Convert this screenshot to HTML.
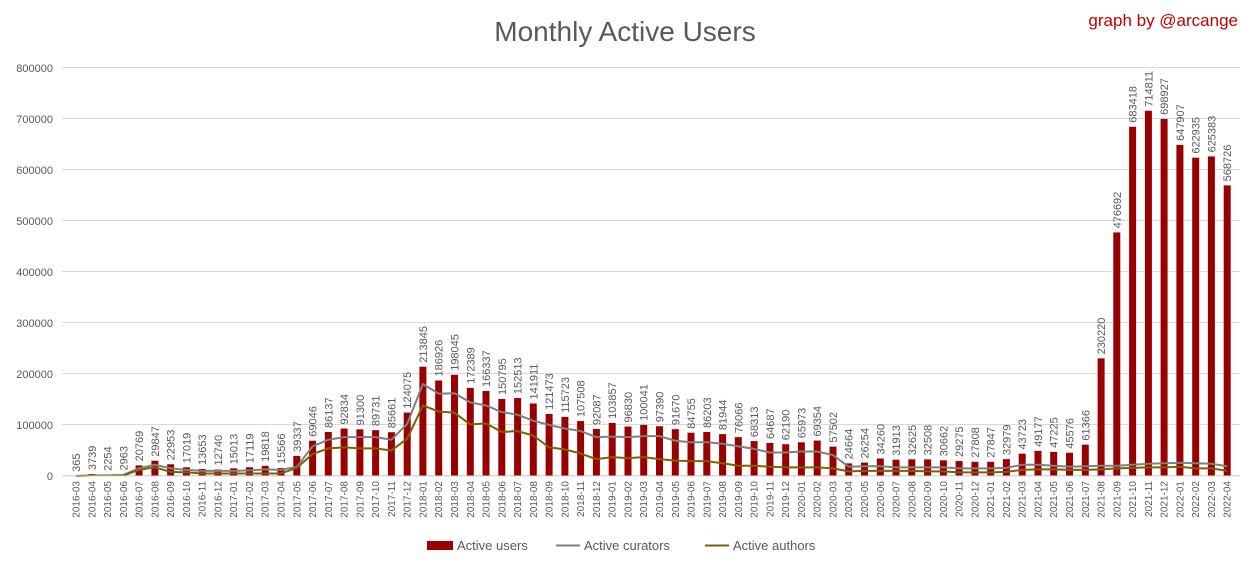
<!DOCTYPE html>
<html><head><meta charset="utf-8"><style>
html,body{margin:0;padding:0;background:#fff;}
svg{display:block;font-family:"Liberation Sans",sans-serif;}
.b rect{fill:#990000}
.b text{font-size:11px;fill:#595959}
.x text{font-size:10px;fill:#595959;text-anchor:end}
.y text{font-size:11px;fill:#595959;text-anchor:end}
</style></head><body>
<svg width="1249" height="568" viewBox="0 0 1249 568" xmlns="http://www.w3.org/2000/svg">
<rect width="1249" height="568" fill="#fff"/>
<text x="625" y="41" text-anchor="middle" font-size="28" fill="#595959">Monthly Active Users</text>
<text x="1238" y="26" text-anchor="end" font-size="17" fill="#c00000">graph by @arcange</text>
<g stroke="#d9d9d9" stroke-width="1">
<line x1="62" x2="1240" y1="67.5" y2="67.5"/><line x1="62" x2="1240" y1="118.5" y2="118.5"/><line x1="62" x2="1240" y1="169.5" y2="169.5"/><line x1="62" x2="1240" y1="220.5" y2="220.5"/><line x1="62" x2="1240" y1="271.5" y2="271.5"/><line x1="62" x2="1240" y1="322.5" y2="322.5"/><line x1="62" x2="1240" y1="373.5" y2="373.5"/><line x1="62" x2="1240" y1="424.5" y2="424.5"/><line x1="62" x2="1240" y1="475.5" y2="475.5"/>
</g>
<g class="y">
<text x="53" y="72">800000</text><text x="53" y="123">700000</text><text x="53" y="174">600000</text><text x="53" y="225">500000</text><text x="53" y="276">400000</text><text x="53" y="327">300000</text><text x="53" y="378">200000</text><text x="53" y="429">100000</text><text x="53" y="480">0</text>
</g>
<g class="b" id="bars"></g>
<g class="b">
<g transform="translate(76,476)"><rect x="-3.5" y="0" width="7" height="365" transform="scale(1,-0.000511)"/><g transform="scale(1,-0.000511) translate(0,365) scale(1,-1956.95)"><text transform="translate(4,-4) rotate(-90)">365</text></g></g>
<g transform="translate(91.8,476)"><rect x="-3.5" y="0" width="7" height="3739" transform="scale(1,-0.000511)"/><g transform="scale(1,-0.000511) translate(0,3739) scale(1,-1956.95)"><text transform="translate(4,-4) rotate(-90)">3739</text></g></g>
<g transform="translate(107.5,476)"><rect x="-3.5" y="0" width="7" height="2254" transform="scale(1,-0.000511)"/><g transform="scale(1,-0.000511) translate(0,2254) scale(1,-1956.95)"><text transform="translate(4,-4) rotate(-90)">2254</text></g></g>
<g transform="translate(123.3,476)"><rect x="-3.5" y="0" width="7" height="2963" transform="scale(1,-0.000511)"/><g transform="scale(1,-0.000511) translate(0,2963) scale(1,-1956.95)"><text transform="translate(4,-4) rotate(-90)">2963</text></g></g>
<g transform="translate(139.1,476)"><rect x="-3.5" y="0" width="7" height="20769" transform="scale(1,-0.000511)"/><g transform="scale(1,-0.000511) translate(0,20769) scale(1,-1956.95)"><text transform="translate(4,-4) rotate(-90)">20769</text></g></g>
<g transform="translate(154.9,476)"><rect x="-3.5" y="0" width="7" height="29847" transform="scale(1,-0.000511)"/><g transform="scale(1,-0.000511) translate(0,29847) scale(1,-1956.95)"><text transform="translate(4,-4) rotate(-90)">29847</text></g></g>
<g transform="translate(170.6,476)"><rect x="-3.5" y="0" width="7" height="22953" transform="scale(1,-0.000511)"/><g transform="scale(1,-0.000511) translate(0,22953) scale(1,-1956.95)"><text transform="translate(4,-4) rotate(-90)">22953</text></g></g>
<g transform="translate(186.4,476)"><rect x="-3.5" y="0" width="7" height="17019" transform="scale(1,-0.000511)"/><g transform="scale(1,-0.000511) translate(0,17019) scale(1,-1956.95)"><text transform="translate(4,-4) rotate(-90)">17019</text></g></g>
<g transform="translate(202.2,476)"><rect x="-3.5" y="0" width="7" height="13653" transform="scale(1,-0.000511)"/><g transform="scale(1,-0.000511) translate(0,13653) scale(1,-1956.95)"><text transform="translate(4,-4) rotate(-90)">13653</text></g></g>
<g transform="translate(217.9,476)"><rect x="-3.5" y="0" width="7" height="12740" transform="scale(1,-0.000511)"/><g transform="scale(1,-0.000511) translate(0,12740) scale(1,-1956.95)"><text transform="translate(4,-4) rotate(-90)">12740</text></g></g>
<g transform="translate(233.7,476)"><rect x="-3.5" y="0" width="7" height="15013" transform="scale(1,-0.000511)"/><g transform="scale(1,-0.000511) translate(0,15013) scale(1,-1956.95)"><text transform="translate(4,-4) rotate(-90)">15013</text></g></g>
<g transform="translate(249.5,476)"><rect x="-3.5" y="0" width="7" height="17119" transform="scale(1,-0.000511)"/><g transform="scale(1,-0.000511) translate(0,17119) scale(1,-1956.95)"><text transform="translate(4,-4) rotate(-90)">17119</text></g></g>
<g transform="translate(265.2,476)"><rect x="-3.5" y="0" width="7" height="19818" transform="scale(1,-0.000511)"/><g transform="scale(1,-0.000511) translate(0,19818) scale(1,-1956.95)"><text transform="translate(4,-4) rotate(-90)">19818</text></g></g>
<g transform="translate(281,476)"><rect x="-3.5" y="0" width="7" height="15566" transform="scale(1,-0.000511)"/><g transform="scale(1,-0.000511) translate(0,15566) scale(1,-1956.95)"><text transform="translate(4,-4) rotate(-90)">15566</text></g></g>
<g transform="translate(296.8,476)"><rect x="-3.5" y="0" width="7" height="39337" transform="scale(1,-0.000511)"/><g transform="scale(1,-0.000511) translate(0,39337) scale(1,-1956.95)"><text transform="translate(4,-4) rotate(-90)">39337</text></g></g>
<g transform="translate(312.6,476)"><rect x="-3.5" y="0" width="7" height="69046" transform="scale(1,-0.000511)"/><g transform="scale(1,-0.000511) translate(0,69046) scale(1,-1956.95)"><text transform="translate(4,-4) rotate(-90)">69046</text></g></g>
<g transform="translate(328.3,476)"><rect x="-3.5" y="0" width="7" height="86137" transform="scale(1,-0.000511)"/><g transform="scale(1,-0.000511) translate(0,86137) scale(1,-1956.95)"><text transform="translate(4,-4) rotate(-90)">86137</text></g></g>
<g transform="translate(344.1,476)"><rect x="-3.5" y="0" width="7" height="92834" transform="scale(1,-0.000511)"/><g transform="scale(1,-0.000511) translate(0,92834) scale(1,-1956.95)"><text transform="translate(4,-4) rotate(-90)">92834</text></g></g>
<g transform="translate(359.9,476)"><rect x="-3.5" y="0" width="7" height="91300" transform="scale(1,-0.000511)"/><g transform="scale(1,-0.000511) translate(0,91300) scale(1,-1956.95)"><text transform="translate(4,-4) rotate(-90)">91300</text></g></g>
<g transform="translate(375.6,476)"><rect x="-3.5" y="0" width="7" height="89731" transform="scale(1,-0.000511)"/><g transform="scale(1,-0.000511) translate(0,89731) scale(1,-1956.95)"><text transform="translate(4,-4) rotate(-90)">89731</text></g></g>
<g transform="translate(391.4,476)"><rect x="-3.5" y="0" width="7" height="85661" transform="scale(1,-0.000511)"/><g transform="scale(1,-0.000511) translate(0,85661) scale(1,-1956.95)"><text transform="translate(4,-4) rotate(-90)">85661</text></g></g>
<g transform="translate(407.2,476)"><rect x="-3.5" y="0" width="7" height="124075" transform="scale(1,-0.000511)"/><g transform="scale(1,-0.000511) translate(0,124075) scale(1,-1956.95)"><text transform="translate(4,-4) rotate(-90)">124075</text></g></g>
<g transform="translate(422.9,476)"><rect x="-3.5" y="0" width="7" height="213845" transform="scale(1,-0.000511)"/><g transform="scale(1,-0.000511) translate(0,213845) scale(1,-1956.95)"><text transform="translate(4,-4) rotate(-90)">213845</text></g></g>
<g transform="translate(438.7,476)"><rect x="-3.5" y="0" width="7" height="186926" transform="scale(1,-0.000511)"/><g transform="scale(1,-0.000511) translate(0,186926) scale(1,-1956.95)"><text transform="translate(4,-4) rotate(-90)">186926</text></g></g>
<g transform="translate(454.5,476)"><rect x="-3.5" y="0" width="7" height="198045" transform="scale(1,-0.000511)"/><g transform="scale(1,-0.000511) translate(0,198045) scale(1,-1956.95)"><text transform="translate(4,-4) rotate(-90)">198045</text></g></g>
<g transform="translate(470.3,476)"><rect x="-3.5" y="0" width="7" height="172389" transform="scale(1,-0.000511)"/><g transform="scale(1,-0.000511) translate(0,172389) scale(1,-1956.95)"><text transform="translate(4,-4) rotate(-90)">172389</text></g></g>
<g transform="translate(486,476)"><rect x="-3.5" y="0" width="7" height="166337" transform="scale(1,-0.000511)"/><g transform="scale(1,-0.000511) translate(0,166337) scale(1,-1956.95)"><text transform="translate(4,-4) rotate(-90)">166337</text></g></g>
<g transform="translate(501.8,476)"><rect x="-3.5" y="0" width="7" height="150795" transform="scale(1,-0.000511)"/><g transform="scale(1,-0.000511) translate(0,150795) scale(1,-1956.95)"><text transform="translate(4,-4) rotate(-90)">150795</text></g></g>
<g transform="translate(517.6,476)"><rect x="-3.5" y="0" width="7" height="152513" transform="scale(1,-0.000511)"/><g transform="scale(1,-0.000511) translate(0,152513) scale(1,-1956.95)"><text transform="translate(4,-4) rotate(-90)">152513</text></g></g>
<g transform="translate(533.3,476)"><rect x="-3.5" y="0" width="7" height="141911" transform="scale(1,-0.000511)"/><g transform="scale(1,-0.000511) translate(0,141911) scale(1,-1956.95)"><text transform="translate(4,-4) rotate(-90)">141911</text></g></g>
<g transform="translate(549.1,476)"><rect x="-3.5" y="0" width="7" height="121473" transform="scale(1,-0.000511)"/><g transform="scale(1,-0.000511) translate(0,121473) scale(1,-1956.95)"><text transform="translate(4,-4) rotate(-90)">121473</text></g></g>
<g transform="translate(564.9,476)"><rect x="-3.5" y="0" width="7" height="115723" transform="scale(1,-0.000511)"/><g transform="scale(1,-0.000511) translate(0,115723) scale(1,-1956.95)"><text transform="translate(4,-4) rotate(-90)">115723</text></g></g>
<g transform="translate(580.6,476)"><rect x="-3.5" y="0" width="7" height="107508" transform="scale(1,-0.000511)"/><g transform="scale(1,-0.000511) translate(0,107508) scale(1,-1956.95)"><text transform="translate(4,-4) rotate(-90)">107508</text></g></g>
<g transform="translate(596.4,476)"><rect x="-3.5" y="0" width="7" height="92087" transform="scale(1,-0.000511)"/><g transform="scale(1,-0.000511) translate(0,92087) scale(1,-1956.95)"><text transform="translate(4,-4) rotate(-90)">92087</text></g></g>
<g transform="translate(612.2,476)"><rect x="-3.5" y="0" width="7" height="103857" transform="scale(1,-0.000511)"/><g transform="scale(1,-0.000511) translate(0,103857) scale(1,-1956.95)"><text transform="translate(4,-4) rotate(-90)">103857</text></g></g>
<g transform="translate(628,476)"><rect x="-3.5" y="0" width="7" height="96830" transform="scale(1,-0.000511)"/><g transform="scale(1,-0.000511) translate(0,96830) scale(1,-1956.95)"><text transform="translate(4,-4) rotate(-90)">96830</text></g></g>
<g transform="translate(643.7,476)"><rect x="-3.5" y="0" width="7" height="100041" transform="scale(1,-0.000511)"/><g transform="scale(1,-0.000511) translate(0,100041) scale(1,-1956.95)"><text transform="translate(4,-4) rotate(-90)">100041</text></g></g>
<g transform="translate(659.5,476)"><rect x="-3.5" y="0" width="7" height="97390" transform="scale(1,-0.000511)"/><g transform="scale(1,-0.000511) translate(0,97390) scale(1,-1956.95)"><text transform="translate(4,-4) rotate(-90)">97390</text></g></g>
<g transform="translate(675.3,476)"><rect x="-3.5" y="0" width="7" height="91670" transform="scale(1,-0.000511)"/><g transform="scale(1,-0.000511) translate(0,91670) scale(1,-1956.95)"><text transform="translate(4,-4) rotate(-90)">91670</text></g></g>
<g transform="translate(691,476)"><rect x="-3.5" y="0" width="7" height="84755" transform="scale(1,-0.000511)"/><g transform="scale(1,-0.000511) translate(0,84755) scale(1,-1956.95)"><text transform="translate(4,-4) rotate(-90)">84755</text></g></g>
<g transform="translate(706.8,476)"><rect x="-3.5" y="0" width="7" height="86203" transform="scale(1,-0.000511)"/><g transform="scale(1,-0.000511) translate(0,86203) scale(1,-1956.95)"><text transform="translate(4,-4) rotate(-90)">86203</text></g></g>
<g transform="translate(722.6,476)"><rect x="-3.5" y="0" width="7" height="81944" transform="scale(1,-0.000511)"/><g transform="scale(1,-0.000511) translate(0,81944) scale(1,-1956.95)"><text transform="translate(4,-4) rotate(-90)">81944</text></g></g>
<g transform="translate(738.3,476)"><rect x="-3.5" y="0" width="7" height="76066" transform="scale(1,-0.000511)"/><g transform="scale(1,-0.000511) translate(0,76066) scale(1,-1956.95)"><text transform="translate(4,-4) rotate(-90)">76066</text></g></g>
<g transform="translate(754.1,476)"><rect x="-3.5" y="0" width="7" height="68313" transform="scale(1,-0.000511)"/><g transform="scale(1,-0.000511) translate(0,68313) scale(1,-1956.95)"><text transform="translate(4,-4) rotate(-90)">68313</text></g></g>
<g transform="translate(769.9,476)"><rect x="-3.5" y="0" width="7" height="64687" transform="scale(1,-0.000511)"/><g transform="scale(1,-0.000511) translate(0,64687) scale(1,-1956.95)"><text transform="translate(4,-4) rotate(-90)">64687</text></g></g>
<g transform="translate(785.7,476)"><rect x="-3.5" y="0" width="7" height="62190" transform="scale(1,-0.000511)"/><g transform="scale(1,-0.000511) translate(0,62190) scale(1,-1956.95)"><text transform="translate(4,-4) rotate(-90)">62190</text></g></g>
<g transform="translate(801.4,476)"><rect x="-3.5" y="0" width="7" height="65973" transform="scale(1,-0.000511)"/><g transform="scale(1,-0.000511) translate(0,65973) scale(1,-1956.95)"><text transform="translate(4,-4) rotate(-90)">65973</text></g></g>
<g transform="translate(817.2,476)"><rect x="-3.5" y="0" width="7" height="69354" transform="scale(1,-0.000511)"/><g transform="scale(1,-0.000511) translate(0,69354) scale(1,-1956.95)"><text transform="translate(4,-4) rotate(-90)">69354</text></g></g>
<g transform="translate(833,476)"><rect x="-3.5" y="0" width="7" height="57502" transform="scale(1,-0.000511)"/><g transform="scale(1,-0.000511) translate(0,57502) scale(1,-1956.95)"><text transform="translate(4,-4) rotate(-90)">57502</text></g></g>
<g transform="translate(848.7,476)"><rect x="-3.5" y="0" width="7" height="24664" transform="scale(1,-0.000511)"/><g transform="scale(1,-0.000511) translate(0,24664) scale(1,-1956.95)"><text transform="translate(4,-4) rotate(-90)">24664</text></g></g>
<g transform="translate(864.5,476)"><rect x="-3.5" y="0" width="7" height="26254" transform="scale(1,-0.000511)"/><g transform="scale(1,-0.000511) translate(0,26254) scale(1,-1956.95)"><text transform="translate(4,-4) rotate(-90)">26254</text></g></g>
<g transform="translate(880.3,476)"><rect x="-3.5" y="0" width="7" height="34260" transform="scale(1,-0.000511)"/><g transform="scale(1,-0.000511) translate(0,34260) scale(1,-1956.95)"><text transform="translate(4,-4) rotate(-90)">34260</text></g></g>
<g transform="translate(896,476)"><rect x="-3.5" y="0" width="7" height="31913" transform="scale(1,-0.000511)"/><g transform="scale(1,-0.000511) translate(0,31913) scale(1,-1956.95)"><text transform="translate(4,-4) rotate(-90)">31913</text></g></g>
<g transform="translate(911.8,476)"><rect x="-3.5" y="0" width="7" height="32625" transform="scale(1,-0.000511)"/><g transform="scale(1,-0.000511) translate(0,32625) scale(1,-1956.95)"><text transform="translate(4,-4) rotate(-90)">32625</text></g></g>
<g transform="translate(927.6,476)"><rect x="-3.5" y="0" width="7" height="32508" transform="scale(1,-0.000511)"/><g transform="scale(1,-0.000511) translate(0,32508) scale(1,-1956.95)"><text transform="translate(4,-4) rotate(-90)">32508</text></g></g>
<g transform="translate(943.4,476)"><rect x="-3.5" y="0" width="7" height="30662" transform="scale(1,-0.000511)"/><g transform="scale(1,-0.000511) translate(0,30662) scale(1,-1956.95)"><text transform="translate(4,-4) rotate(-90)">30662</text></g></g>
<g transform="translate(959.1,476)"><rect x="-3.5" y="0" width="7" height="29275" transform="scale(1,-0.000511)"/><g transform="scale(1,-0.000511) translate(0,29275) scale(1,-1956.95)"><text transform="translate(4,-4) rotate(-90)">29275</text></g></g>
<g transform="translate(974.9,476)"><rect x="-3.5" y="0" width="7" height="27808" transform="scale(1,-0.000511)"/><g transform="scale(1,-0.000511) translate(0,27808) scale(1,-1956.95)"><text transform="translate(4,-4) rotate(-90)">27808</text></g></g>
<g transform="translate(990.7,476)"><rect x="-3.5" y="0" width="7" height="27847" transform="scale(1,-0.000511)"/><g transform="scale(1,-0.000511) translate(0,27847) scale(1,-1956.95)"><text transform="translate(4,-4) rotate(-90)">27847</text></g></g>
<g transform="translate(1006.4,476)"><rect x="-3.5" y="0" width="7" height="32979" transform="scale(1,-0.000511)"/><g transform="scale(1,-0.000511) translate(0,32979) scale(1,-1956.95)"><text transform="translate(4,-4) rotate(-90)">32979</text></g></g>
<g transform="translate(1022.2,476)"><rect x="-3.5" y="0" width="7" height="43723" transform="scale(1,-0.000511)"/><g transform="scale(1,-0.000511) translate(0,43723) scale(1,-1956.95)"><text transform="translate(4,-4) rotate(-90)">43723</text></g></g>
<g transform="translate(1038,476)"><rect x="-3.5" y="0" width="7" height="49177" transform="scale(1,-0.000511)"/><g transform="scale(1,-0.000511) translate(0,49177) scale(1,-1956.95)"><text transform="translate(4,-4) rotate(-90)">49177</text></g></g>
<g transform="translate(1053.7,476)"><rect x="-3.5" y="0" width="7" height="47225" transform="scale(1,-0.000511)"/><g transform="scale(1,-0.000511) translate(0,47225) scale(1,-1956.95)"><text transform="translate(4,-4) rotate(-90)">47225</text></g></g>
<g transform="translate(1069.5,476)"><rect x="-3.5" y="0" width="7" height="45576" transform="scale(1,-0.000511)"/><g transform="scale(1,-0.000511) translate(0,45576) scale(1,-1956.95)"><text transform="translate(4,-4) rotate(-90)">45576</text></g></g>
<g transform="translate(1085.3,476)"><rect x="-3.5" y="0" width="7" height="61366" transform="scale(1,-0.000511)"/><g transform="scale(1,-0.000511) translate(0,61366) scale(1,-1956.95)"><text transform="translate(4,-4) rotate(-90)">61366</text></g></g>
<g transform="translate(1101.1,476)"><rect x="-3.5" y="0" width="7" height="230220" transform="scale(1,-0.000511)"/><g transform="scale(1,-0.000511) translate(0,230220) scale(1,-1956.95)"><text transform="translate(4,-4) rotate(-90)">230220</text></g></g>
<g transform="translate(1116.8,476)"><rect x="-3.5" y="0" width="7" height="476692" transform="scale(1,-0.000511)"/><g transform="scale(1,-0.000511) translate(0,476692) scale(1,-1956.95)"><text transform="translate(4,-4) rotate(-90)">476692</text></g></g>
<g transform="translate(1132.6,476)"><rect x="-3.5" y="0" width="7" height="683418" transform="scale(1,-0.000511)"/><g transform="scale(1,-0.000511) translate(0,683418) scale(1,-1956.95)"><text transform="translate(4,-4) rotate(-90)">683418</text></g></g>
<g transform="translate(1148.4,476)"><rect x="-3.5" y="0" width="7" height="714811" transform="scale(1,-0.000511)"/><g transform="scale(1,-0.000511) translate(0,714811) scale(1,-1956.95)"><text transform="translate(4,-4) rotate(-90)">714811</text></g></g>
<g transform="translate(1164.1,476)"><rect x="-3.5" y="0" width="7" height="698927" transform="scale(1,-0.000511)"/><g transform="scale(1,-0.000511) translate(0,698927) scale(1,-1956.95)"><text transform="translate(4,-4) rotate(-90)">698927</text></g></g>
<g transform="translate(1179.9,476)"><rect x="-3.5" y="0" width="7" height="647907" transform="scale(1,-0.000511)"/><g transform="scale(1,-0.000511) translate(0,647907) scale(1,-1956.95)"><text transform="translate(4,-4) rotate(-90)">647907</text></g></g>
<g transform="translate(1195.7,476)"><rect x="-3.5" y="0" width="7" height="622935" transform="scale(1,-0.000511)"/><g transform="scale(1,-0.000511) translate(0,622935) scale(1,-1956.95)"><text transform="translate(4,-4) rotate(-90)">622935</text></g></g>
<g transform="translate(1211.4,476)"><rect x="-3.5" y="0" width="7" height="625383" transform="scale(1,-0.000511)"/><g transform="scale(1,-0.000511) translate(0,625383) scale(1,-1956.95)"><text transform="translate(4,-4) rotate(-90)">625383</text></g></g>
<g transform="translate(1227.2,476)"><rect x="-3.5" y="0" width="7" height="568726" transform="scale(1,-0.000511)"/><g transform="scale(1,-0.000511) translate(0,568726) scale(1,-1956.95)"><text transform="translate(4,-4) rotate(-90)">568726</text></g></g>
</g>
<g transform="translate(76,476) scale(15.77,-0.511)" fill="none" stroke-linejoin="round">
<polyline vector-effect="non-scaling-stroke" stroke="#7f7f7f" stroke-width="2" points="0,0 1,1 2,1 3,2 4,15 5,22 6,15 7,12 8,10 9,10 10,10 11,11 12,13 13,12 14,18 15,58 16,71 17,76 18,76 19,76 20,71 21,102 22,180 23,161 24,162 25,144 26,138 27,125 28,120 29,108 30,100 31,93 32,88 33,76 34,77 35,76 36,78 37,78 38,69 39,66 40,66 41,63 42,58 43,53 44,46 45,46 46,48 47,48 48,41 49,18 50,19 51,19 52,17 53,17 54,17 55,17 56,15 57,15 58,15 59,16 60,22 61,22 62,20 63,18 64,19 65,20 66,20 67,22 68,24 69,25 70,26 71,25 72,24 73,19"/>
<polyline vector-effect="non-scaling-stroke" stroke="#7f6000" stroke-width="2" points="0,0 1,1 2,1 3,1 4,12 5,17 6,8 7,7 8,5 9,5 10,5 11,5 12,5 13,5 14,16 15,43 16,54 17,56 18,54 19,54 20,50 21,73 22,138 23,126 24,124 25,101 26,103 27,86 28,88 29,79 30,56 31,52 32,44 33,33 34,37 35,35 36,37 37,33 38,30 39,29 40,29 41,25 42,20 43,20 44,18 45,17 46,17 47,17 48,15 49,9 50,10 51,10 52,10 53,10 54,9 55,9 56,7 57,7 58,7 59,8 60,12 61,13 62,13 63,12 64,12 65,13 66,15 67,16 68,17 69,17 70,18 71,15 72,15 73,10"/>
</g>
<line x1="62" x2="1240" y1="476" y2="476" stroke="#d9d9d9"/>
<g class="x">
<text transform="translate(79.5,481) rotate(-90)">2016-03</text><text transform="translate(95.3,481) rotate(-90)">2016-04</text><text transform="translate(111,481) rotate(-90)">2016-05</text><text transform="translate(126.8,481) rotate(-90)">2016-06</text><text transform="translate(142.6,481) rotate(-90)">2016-07</text><text transform="translate(158.4,481) rotate(-90)">2016-08</text><text transform="translate(174.1,481) rotate(-90)">2016-09</text><text transform="translate(189.9,481) rotate(-90)">2016-10</text><text transform="translate(205.7,481) rotate(-90)">2016-11</text><text transform="translate(221.4,481) rotate(-90)">2016-12</text><text transform="translate(237.2,481) rotate(-90)">2017-01</text><text transform="translate(253,481) rotate(-90)">2017-02</text><text transform="translate(268.7,481) rotate(-90)">2017-03</text><text transform="translate(284.5,481) rotate(-90)">2017-04</text><text transform="translate(300.3,481) rotate(-90)">2017-05</text><text transform="translate(316.1,481) rotate(-90)">2017-06</text><text transform="translate(331.8,481) rotate(-90)">2017-07</text><text transform="translate(347.6,481) rotate(-90)">2017-08</text><text transform="translate(363.4,481) rotate(-90)">2017-09</text><text transform="translate(379.1,481) rotate(-90)">2017-10</text><text transform="translate(394.9,481) rotate(-90)">2017-11</text><text transform="translate(410.7,481) rotate(-90)">2017-12</text><text transform="translate(426.4,481) rotate(-90)">2018-01</text><text transform="translate(442.2,481) rotate(-90)">2018-02</text><text transform="translate(458,481) rotate(-90)">2018-03</text><text transform="translate(473.8,481) rotate(-90)">2018-04</text><text transform="translate(489.5,481) rotate(-90)">2018-05</text><text transform="translate(505.3,481) rotate(-90)">2018-06</text><text transform="translate(521.1,481) rotate(-90)">2018-07</text><text transform="translate(536.8,481) rotate(-90)">2018-08</text><text transform="translate(552.6,481) rotate(-90)">2018-09</text><text transform="translate(568.4,481) rotate(-90)">2018-10</text><text transform="translate(584.1,481) rotate(-90)">2018-11</text><text transform="translate(599.9,481) rotate(-90)">2018-12</text><text transform="translate(615.7,481) rotate(-90)">2019-01</text><text transform="translate(631.5,481) rotate(-90)">2019-02</text><text transform="translate(647.2,481) rotate(-90)">2019-03</text><text transform="translate(663,481) rotate(-90)">2019-04</text><text transform="translate(678.8,481) rotate(-90)">2019-05</text><text transform="translate(694.5,481) rotate(-90)">2019-06</text><text transform="translate(710.3,481) rotate(-90)">2019-07</text><text transform="translate(726.1,481) rotate(-90)">2019-08</text><text transform="translate(741.8,481) rotate(-90)">2019-09</text><text transform="translate(757.6,481) rotate(-90)">2019-10</text><text transform="translate(773.4,481) rotate(-90)">2019-11</text><text transform="translate(789.2,481) rotate(-90)">2019-12</text><text transform="translate(804.9,481) rotate(-90)">2020-01</text><text transform="translate(820.7,481) rotate(-90)">2020-02</text><text transform="translate(836.5,481) rotate(-90)">2020-03</text><text transform="translate(852.2,481) rotate(-90)">2020-04</text><text transform="translate(868,481) rotate(-90)">2020-05</text><text transform="translate(883.8,481) rotate(-90)">2020-06</text><text transform="translate(899.5,481) rotate(-90)">2020-07</text><text transform="translate(915.3,481) rotate(-90)">2020-08</text><text transform="translate(931.1,481) rotate(-90)">2020-09</text><text transform="translate(946.9,481) rotate(-90)">2020-10</text><text transform="translate(962.6,481) rotate(-90)">2020-11</text><text transform="translate(978.4,481) rotate(-90)">2020-12</text><text transform="translate(994.2,481) rotate(-90)">2021-01</text><text transform="translate(1009.9,481) rotate(-90)">2021-02</text><text transform="translate(1025.7,481) rotate(-90)">2021-03</text><text transform="translate(1041.5,481) rotate(-90)">2021-04</text><text transform="translate(1057.2,481) rotate(-90)">2021-05</text><text transform="translate(1073,481) rotate(-90)">2021-06</text><text transform="translate(1088.8,481) rotate(-90)">2021-07</text><text transform="translate(1104.6,481) rotate(-90)">2021-08</text><text transform="translate(1120.3,481) rotate(-90)">2021-09</text><text transform="translate(1136.1,481) rotate(-90)">2021-10</text><text transform="translate(1151.9,481) rotate(-90)">2021-11</text><text transform="translate(1167.6,481) rotate(-90)">2021-12</text><text transform="translate(1183.4,481) rotate(-90)">2022-01</text><text transform="translate(1199.2,481) rotate(-90)">2022-02</text><text transform="translate(1214.9,481) rotate(-90)">2022-03</text><text transform="translate(1230.7,481) rotate(-90)">2022-04</text>
</g>
<g font-size="13" fill="#595959">
<rect x="427" y="541" width="26" height="9" fill="#990000"/><text x="457" y="550">Active users</text>
<line x1="556" x2="580" y1="545.5" y2="545.5" stroke="#7f7f7f" stroke-width="2"/><text x="584" y="550">Active curators</text>
<line x1="705" x2="729" y1="545.5" y2="545.5" stroke="#7f6000" stroke-width="2"/><text x="733" y="550">Active authors</text>
</g>
</svg>
</body></html>
